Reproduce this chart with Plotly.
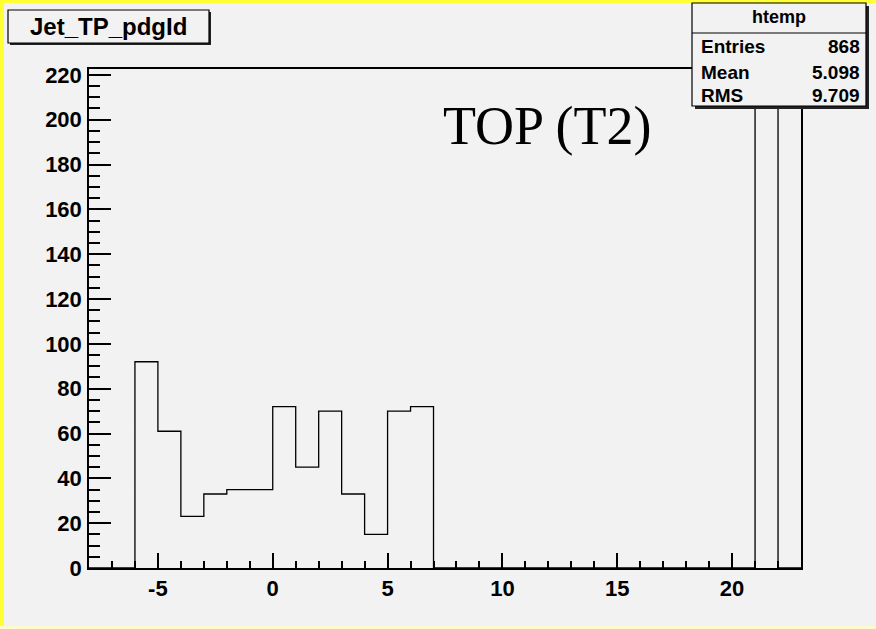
import plotly.graph_objects as go

# ---- data ----
bin_low = [-6, -5, -4, -3, -2, -1, 0, 1, 2, 3, 4, 5, 6, 21, 22]
counts = [92, 61, 23, 33, 35, 35, 72, 45, 70, 33, 15, 70, 72, 212, 0]
x_min, x_max = -8, 23
y_max = 222.6
x_ticks = [-5, 0, 5, 10, 15, 20]
x_tick_labels = ["-5", "0", "5", "10", "15", "20"]
y_ticks = list(range(0, 221, 20))
hist_name = "htemp"
title_text = "Jet_TP_pdgId"
stats_labels = ["Entries", "Mean", "RMS"]
stats_values = ["868", "5.098", "9.709"]
note_text = "TOP (T2)"

# ---- build step outline over the whole axis range ----
edges = list(range(x_min, x_max + 1))
full = {e: 0 for e in edges[:-1]}
for lo, c in zip(bin_low, counts):
    full[lo] = c
xs = edges
ys = [full[e] for e in edges[:-1]] + [full[edges[-2]]]

W, H = 876, 629
L, R, T, B = 89, W - 801, 69, H - 568
pw, ph = W - L - R, H - T - B


def px(x):
    return (x - L) / pw


def py(y):
    return 1 - (y - T) / ph


BG = "#f2f2f2"
fig = go.Figure()
fig.add_trace(go.Scatter(x=xs, y=ys, mode="lines", line_shape="hv",
                         line=dict(color="black", width=1.3),
                         hoverinfo="skip", showlegend=False))

shapes = []
# yellow canvas border (left, top, bottom)
yel = "#ffff33"
shapes.append(dict(type="rect", xref="paper", yref="paper", x0=px(0), x1=px(4), y0=py(0), y1=py(H),
                   fillcolor=yel, line=dict(width=0), layer="above"))
shapes.append(dict(type="rect", xref="paper", yref="paper", x0=px(0), x1=px(W), y0=py(0), y1=py(3),
                   fillcolor=yel, line=dict(width=0), layer="above"))
shapes.append(dict(type="rect", xref="paper", yref="paper", x0=px(0), x1=px(W), y0=py(626), y1=py(H),
                   fillcolor="#fffacd", line=dict(width=0), layer="above"))


def box(x0, y0, x1, y1, sh=3):
    shapes.append(dict(type="rect", xref="paper", yref="paper",
                       x0=px(x0 + sh), x1=px(x1 + sh), y0=py(y1 + sh), y1=py(y0 + sh),
                       fillcolor="#222222", line=dict(width=0), layer="above"))
    shapes.append(dict(type="rect", xref="paper", yref="paper",
                       x0=px(x0), x1=px(x1), y0=py(y1), y1=py(y0),
                       fillcolor=BG, line=dict(color="black", width=1.2), layer="above"))


box(8, 10, 209, 43, sh=2)
box(692, 3, 866, 106, sh=3)
shapes.append(dict(type="line", xref="paper", yref="paper", x0=px(692), x1=px(866),
                   y0=py(33), y1=py(33), line=dict(color="black", width=1.2), layer="above"))

ann = []
ann.append(dict(xref="paper", yref="paper", x=px(108), y=py(27), text="<b>" + title_text + "</b>",
                showarrow=False, xanchor="center", yanchor="middle",
                font=dict(family="Liberation Sans, Arial", size=24, color="black")))
ann.append(dict(xref="paper", yref="paper", x=px(779), y=py(17), text="<b>" + hist_name + "</b>",
                showarrow=False, xanchor="center", yanchor="middle",
                font=dict(family="Liberation Sans, Arial", size=18, color="black")))
rows_y = [47, 72, 96]
for lab, val, yy in zip(stats_labels, stats_values, rows_y):
    ann.append(dict(xref="paper", yref="paper", x=px(699), y=py(yy), text="<b>" + lab + "</b>",
                    showarrow=False, xanchor="left", yanchor="middle",
                    font=dict(family="Liberation Sans, Arial", size=19, color="black")))
    ann.append(dict(xref="paper", yref="paper", x=px(862), y=py(yy), text="<b>" + val + "</b>",
                    showarrow=False, xanchor="right", yanchor="middle",
                    font=dict(family="Liberation Sans, Arial", size=19, color="black")))
ann.append(dict(xref="paper", yref="paper", x=px(547), y=py(126), text=note_text,
                showarrow=False, xanchor="center", yanchor="middle",
                font=dict(family="Liberation Serif, Times New Roman", size=54, color="black")))

fig.update_layout(
    width=W, height=H,
    margin=dict(l=L, r=R, t=T, b=B),
    paper_bgcolor=BG, plot_bgcolor=BG,
    shapes=shapes, annotations=ann,
    xaxis=dict(range=[x_min, x_max], tickvals=x_ticks, ticktext=x_tick_labels,
               showgrid=False, zeroline=False,
               showline=True, linecolor="black", linewidth=1.5, mirror=True,
               ticks="inside", ticklen=15, tickwidth=1.5, tickcolor="black",
               minor=dict(ticks="inside", ticklen=7, dtick=1, tickwidth=1.5, tickcolor="black", showgrid=False),
               tickfont=dict(family="Liberation Sans, Arial", size=22, color="black", weight="bold"),
               ticklabelstandoff=0),
    yaxis=dict(range=[0, y_max], tickvals=y_ticks, showgrid=False, zeroline=False,
               showline=True, linecolor="black", linewidth=1.5, mirror=True,
               ticks="inside", ticklen=22, tickwidth=1.5, tickcolor="black",
               minor=dict(ticks="inside", ticklen=11, dtick=5, tickwidth=1.5, tickcolor="black", showgrid=False),
               tickfont=dict(family="Liberation Sans, Arial", size=22, color="black", weight="bold"),
               ticklabelstandoff=1),
)

fig.write_html("out.html", config={"displayModeBar": False},
               post_script="document.body.style.margin='0px';document.body.style.background='#f2f2f2';")
